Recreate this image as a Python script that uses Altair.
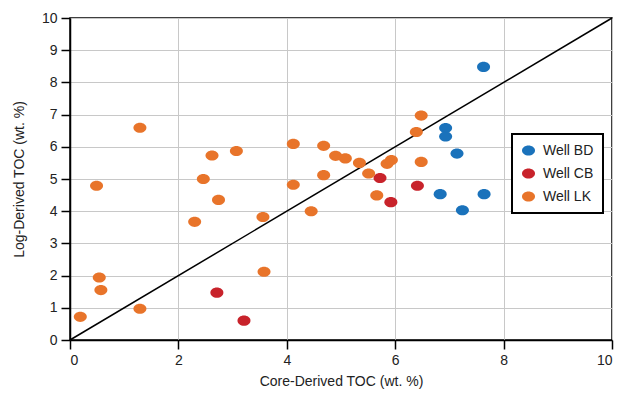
import altair as alt
import pandas as pd

bd_x = [7.63, 6.93, 6.93, 7.14, 6.83, 7.64, 7.24]
bd_y = [8.48, 6.58, 6.32, 5.79, 4.53, 4.53, 4.03]

cb_x = [5.72, 6.41, 5.92, 2.71, 3.21]
cb_y = [5.03, 4.79, 4.28, 1.47, 0.60]

lk_x = [1.29, 0.49, 2.46, 2.62, 3.07, 4.12, 4.12, 2.74, 4.68, 4.68, 6.48, 6.39, 4.90, 5.08,
        5.34, 5.85, 5.93, 6.48, 5.51, 5.66, 2.30, 3.56, 4.45, 3.58, 0.54, 0.57, 1.29, 0.19]
lk_y = [6.59, 4.79, 5.00, 5.73, 5.87, 6.09, 4.82, 4.35, 6.03, 5.12, 6.97, 6.46, 5.72, 5.64,
        5.50, 5.47, 5.59, 5.53, 5.17, 4.49, 3.67, 3.82, 4.00, 2.12, 1.94, 1.55, 0.97, 0.72]

wells = ["Well BD", "Well CB", "Well LK"]
colors = ["#1a72bb", "#c8232b", "#e8742a"]

line_x = [0, 10]
line_y = [0, 10]

x_ticks = [0, 2, 4, 6, 8, 10]
y_ticks = [0, 1, 2, 3, 4, 5, 6, 7, 8, 9, 10]

rows = []
for name, xs, ys in [("Well BD", bd_x, bd_y), ("Well CB", cb_x, cb_y), ("Well LK", lk_x, lk_y)]:
    for a, b in zip(xs, ys):
        rows.append({"core": a, "log": b, "well": name})
df = pd.DataFrame(rows)
df_line = pd.DataFrame({"core": line_x, "log": line_y})

ellipse = "M -1 0 A 1 0.78 0 1 0 1 0 A 1 0.78 0 1 0 -1 0 Z"
FONT = "Liberation Sans"

xscale = alt.Scale(domain=[0, 10], nice=False)
yscale = alt.Scale(domain=[0, 10], nice=False)

xaxis = alt.Axis(values=x_ticks, title="Core-Derived TOC (wt. %)",
                 tickSize=9, labelPadding=4, titlePadding=7, labelOverlap=False)
yaxis = alt.Axis(values=y_ticks, title="Log-Derived TOC (wt. %)",
                 tickSize=9, labelPadding=4, titlePadding=15, labelOverlap=False)

line = alt.Chart(df_line).mark_line(color="black", strokeWidth=1.5).encode(
    x=alt.X("core:Q", scale=xscale, axis=xaxis),
    y=alt.Y("log:Q", scale=yscale, axis=yaxis),
)

pts = alt.Chart(df).mark_point(filled=True, opacity=1, shape=ellipse, size=169).encode(
    x=alt.X("core:Q", scale=xscale, axis=xaxis),
    y=alt.Y("log:Q", scale=yscale, axis=yaxis),
    color=alt.Color("well:N", scale=alt.Scale(domain=wells, range=colors),
                    legend=alt.Legend(title=None, orient="none", legendX=442, legendY=116,
                                      symbolType=ellipse, symbolSize=169,
                                      labelFontSize=14, labelFont=FONT, labelColor="#222222",
                                      fillColor="white",
                                      padding=9, rowPadding=8, labelOffset=7,
                                      symbolOpacity=1)),
)

chart = alt.layer(line, pts).properties(
    width=542, height=322,
    autosize=alt.AutoSizeParams(type="none"),
    padding={"left": 62, "top": 10, "right": 10, "bottom": 55},
).configure_view(
    stroke="black", strokeWidth=1.5
).configure_legend(
    strokeColor="black", strokeWidth=2
).configure_axis(
    domainColor="black", domainWidth=1.5, tickColor="black", tickWidth=1.5,
    gridColor="#c8c8c8", gridWidth=1,
    labelFont=FONT, labelFontSize=14, labelColor="#222222",
    titleFont=FONT, titleFontSize=14, titleFontWeight="normal", titleColor="#222222",
)

chart.save("out.html", embed_options={"renderer": "svg", "actions": False})
